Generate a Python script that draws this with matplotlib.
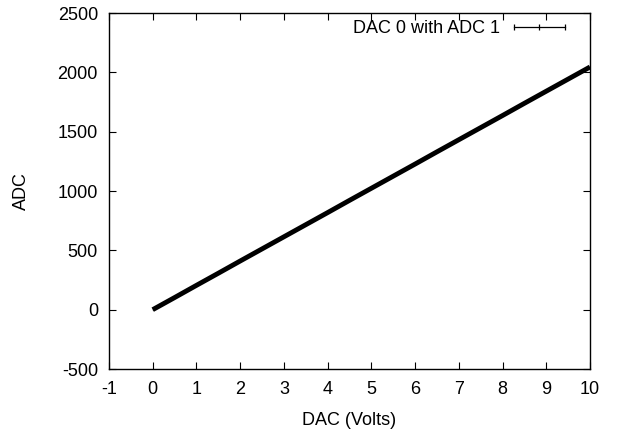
import matplotlib
matplotlib.use("Agg")
import matplotlib.pyplot as plt
from matplotlib.lines import Line2D

plt.rcParams['font.family'] = ['Liberation Sans', 'DejaVu Sans']
plt.rcParams['axes.unicode_minus'] = False

# DAC voltage vs ADC reading
dac_volts = [0.0, 0.5, 1.0, 1.5, 2.0, 2.5, 3.0, 3.5, 4.0, 4.5, 5.0,
             5.5, 6.0, 6.5, 7.0, 7.5, 8.0, 8.5, 9.0, 9.5, 10.0]
adc_counts = [0, 102, 205, 307, 410, 512, 614, 716, 818, 921, 1023,
              1125, 1227, 1330, 1432, 1534, 1636, 1739, 1841, 1943, 2045]
adc_err = [4] * len(adc_counts)

x_ticks = list(range(-1, 11))
y_ticks = list(range(-500, 2501, 500))

W, H = 617, 430
fig = plt.figure(figsize=(W / 100, H / 100), dpi=100)
ax = fig.add_axes([109 / W, 1 - 369 / H, (590 - 109) / W, (369 - 13) / H])

ax.errorbar(dac_volts, adc_counts, yerr=adc_err, color='black', lw=3.5,
            elinewidth=1, capsize=0, solid_capstyle='butt')

ax.set_xlim(-1, 10)
ax.set_ylim(-500, 2500)
ax.set_xticks(x_ticks)
ax.set_yticks(y_ticks)
ax.tick_params(direction='in', top=True, right=True, length=5, width=0.8,
               labelsize=13, colors='black')
ax.tick_params(axis='x', pad=9)
ax.tick_params(axis='y', pad=8)
for s in ax.spines.values():
    s.set_linewidth(1.0)

ax.set_xlabel('DAC (Volts)', fontsize=13)
ax.set_ylabel('ADC', fontsize=13)
ax.xaxis.set_label_coords(0.5, (369 - 412) / 356)
ax.yaxis.set_label_coords((30 - 109) / 481, 0.5)

handle = Line2D([], [], color='black', lw=0.9, marker='|', markersize=4,
                markeredgewidth=0.9)
ax.legend([handle], ['DAC 0 with ADC 1'], loc='center right', frameon=False,
          markerfirst=False, numpoints=3, fontsize=13, handlelength=3.4,
          handletextpad=0.5, borderpad=0, borderaxespad=0,
          bbox_to_anchor=(570 / W, 1 - 28.5 / H),
          bbox_transform=fig.transFigure)

fig.savefig('out.png', dpi=100)
